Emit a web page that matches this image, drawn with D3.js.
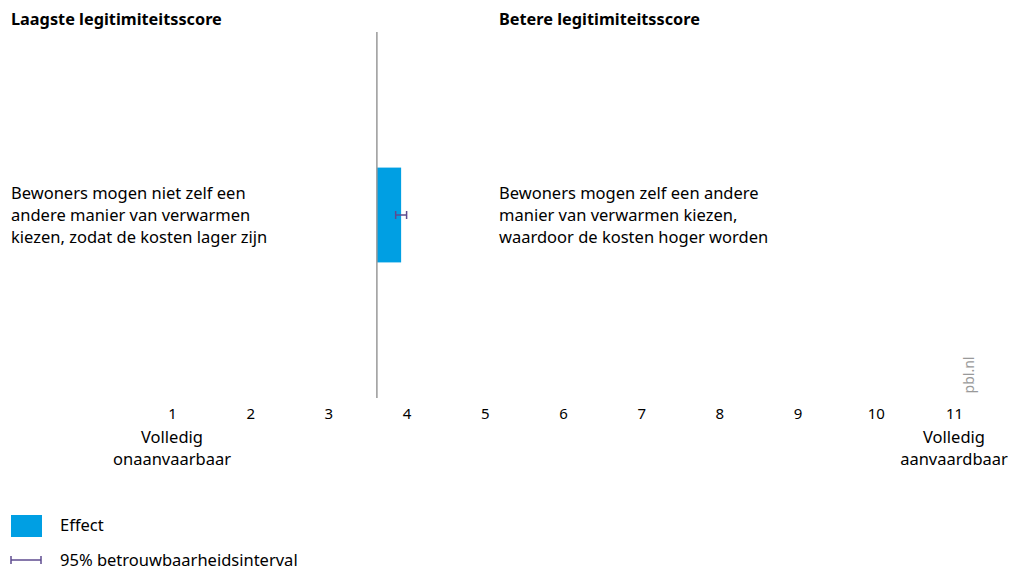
<!DOCTYPE html>
<html>
<head>
<meta charset="utf-8">
<script src="https://cdn.jsdelivr.net/npm/d3@7"></script>
<style>
  body { margin: 0; background: #fff; }
  svg { font-family: "Noto Sans", "Open Sans", sans-serif; }
</style>
</head>
<body>
<svg id="chart" width="1011" height="572"></svg>
<script>
const categories = ['Bewoners mogen zelf een andere manier van verwarmen'];
const baseline = 3.62;
const effects = [3.93];
const ciLow = [3.86];
const ciHigh = [4.0];
const ticks = [1, 2, 3, 4, 5, 6, 7, 8, 9, 10, 11];
const leftLabel = ['Bewoners mogen niet zelf een', 'andere manier van verwarmen', 'kiezen, zodat de kosten lager zijn'];
const rightLabel = ['Bewoners mogen zelf een andere', 'manier van verwarmen kiezen,', 'waardoor de kosten hoger worden'];

const svg = d3.select('#chart');

const x = d3.scaleLinear().domain([1, 11]).range([172, 954]);
const y = d3.scaleBand().domain(categories).range([32, 398]).paddingOuter(1.43);

// headers
svg.append('text').attr('x', 11).attr('y', 25).attr('font-size', 16.3).attr('font-weight', 'bold').text('Laagste legitimiteitsscore');
svg.append('text').attr('x', 499).attr('y', 25).attr('font-size', 16.3).attr('font-weight', 'bold').text('Betere legitimiteitsscore');

// bars
svg.selectAll('.bar')
  .data(categories)
  .enter()
  .append('rect')
  .attr('class', 'bar')
  .attr('x', x(baseline))
  .attr('y', (d) => y(d))
  .attr('width', (d, i) => x(effects[i]) - x(baseline))
  .attr('height', y.bandwidth())
  .attr('fill', '#009fe3');

// baseline
svg.append('line')
  .attr('x1', x(baseline)).attr('x2', x(baseline))
  .attr('y1', 32).attr('y2', 398)
  .attr('stroke', '#999').attr('stroke-width', 1.5);

// error bars
const err = svg.selectAll('.err').data(categories).enter().append('g').attr('class', 'err')
  .attr('stroke', '#5e4b8f').attr('stroke-width', 1.5);
err.append('line')
  .attr('x1', (d, i) => x(ciLow[i])).attr('x2', (d, i) => x(ciHigh[i]))
  .attr('y1', (d) => y(d) + y.bandwidth() / 2).attr('y2', (d) => y(d) + y.bandwidth() / 2);
err.append('line')
  .attr('x1', (d, i) => x(ciLow[i])).attr('x2', (d, i) => x(ciLow[i]))
  .attr('y1', (d) => y(d) + y.bandwidth() / 2 - 4).attr('y2', (d) => y(d) + y.bandwidth() / 2 + 4);
err.append('line')
  .attr('x1', (d, i) => x(ciHigh[i])).attr('x2', (d, i) => x(ciHigh[i]))
  .attr('y1', (d) => y(d) + y.bandwidth() / 2 - 4).attr('y2', (d) => y(d) + y.bandwidth() / 2 + 4);

// category labels
const mid = y(categories[0]) + y.bandwidth() / 2;
svg.append('g').selectAll('text').data(leftLabel).enter().append('text')
  .attr('x', 11).attr('y', (d, i) => mid + 6 + (i - 1) * 22)
  .attr('font-size', 16.5).text((d) => d);
svg.append('g').selectAll('text').data(rightLabel).enter().append('text')
  .attr('x', 499).attr('y', (d, i) => mid + 6 + (i - 1) * 22)
  .attr('font-size', 16.5).text((d) => d);

// x axis
const axis = svg.append('g').attr('transform', 'translate(0,403)')
  .call(d3.axisBottom(x).tickValues(ticks).tickSize(0).tickPadding(5).tickFormat(d3.format('d')));
axis.select('.domain').remove();
axis.selectAll('text').attr('font-size', 15).attr('fill', '#000').attr('font-family', '"Noto Sans", sans-serif');

svg.append('text').attr('x', x(1)).attr('y', 443).attr('text-anchor', 'middle').attr('font-size', 16.5).text('Volledig');
svg.append('text').attr('x', x(1)).attr('y', 465).attr('text-anchor', 'middle').attr('font-size', 16.5).text('onaanvaarbaar');
svg.append('text').attr('x', x(11)).attr('y', 443).attr('text-anchor', 'middle').attr('font-size', 16.5).text('Volledig');
svg.append('text').attr('x', x(11)).attr('y', 465).attr('text-anchor', 'middle').attr('font-size', 16.5).text('aanvaardbaar');

// watermark
svg.append('text').attr('transform', 'translate(974,375) rotate(-90)')
  .attr('text-anchor', 'middle').attr('font-size', 14).attr('fill', '#999').text('pbl.nl');

// legend
svg.append('rect').attr('x', 11).attr('y', 515).attr('width', 31).attr('height', 22).attr('fill', '#009fe3');
svg.append('text').attr('x', 60).attr('y', 531).attr('font-size', 16.5).text('Effect');
const lg = svg.append('g').attr('stroke', '#5e4b8f').attr('stroke-width', 1.5);
lg.append('line').attr('x1', 11).attr('x2', 41).attr('y1', 560).attr('y2', 560);
lg.append('line').attr('x1', 11).attr('x2', 11).attr('y1', 556).attr('y2', 564);
lg.append('line').attr('x1', 41).attr('x2', 41).attr('y1', 556).attr('y2', 564);
svg.append('text').attr('x', 60).attr('y', 566).attr('font-size', 16.5).text('95% betrouwbaarheidsinterval');
</script>
</body>
</html>
